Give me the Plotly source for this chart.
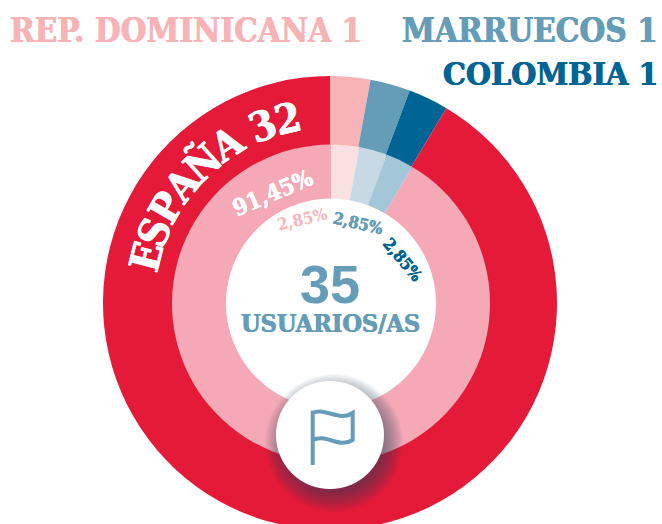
import math
import plotly.graph_objects as go

COUNTRIES = ["REP. DOMINICANA", "MARRUECOS", "COLOMBIA", "ESPAÑA"]
USERS = [1, 1, 1, 32]
PERCENTS = [2.85, 2.85, 2.85, 91.45]
OUTER_COLORS = ["#f7b3b6", "#659db9", "#006595", "#e51a38"]
INNER_COLORS = ["#fbe0e2", "#c6d9e5", "#a3c6d8", "#f5a9b6"]
TOTAL = 35
TOTAL_LABEL = "USUARIOS/AS"

W, H = 662, 540
CX, CY = 330, 303
R_OUT, R_MID, R_HOLE = 227, 159, 105
SERIF = "DejaVu Serif Condensed"
BLUE = "#659db9"


def px(x):
    return x / W


def py(y):
    return 1 - y / H


def dom(r, cx=CX, cy=CY):
    return dict(x=[px(cx - r), px(cx + r)], y=[py(cy + r), py(cy - r)])


def note(text, x, y, size, color, angle=0, anchor="center", family=SERIF, weight="bold", bold=0.4):
    shadow = f"{bold}px 0 0 {color}, -{bold}px 0 0 {color}" if bold else "none"
    return dict(text=text, x=px(x), y=py(y), xref="paper", yref="paper", showarrow=False,
                xanchor=anchor, yanchor="middle", textangle=angle,
                font=dict(family=family, size=size, color=color, weight=weight, shadow=shadow))


fig = go.Figure()
fig.add_trace(go.Pie(values=USERS, labels=COUNTRIES, sort=False, direction="clockwise", rotation=0,
                     hole=(R_MID - 3) / R_OUT, domain=dom(R_OUT), textinfo="none",
                     marker=dict(colors=OUTER_COLORS, line=dict(width=0)), showlegend=False))
fig.add_trace(go.Pie(values=PERCENTS, labels=COUNTRIES, sort=False, direction="clockwise", rotation=0,
                     hole=R_HOLE / R_MID, domain=dom(R_MID, CX + 1, CY + 0.5), textinfo="none",
                     marker=dict(colors=INNER_COLORS, line=dict(width=0)), showlegend=False))

notes = [
    note(f"{COUNTRIES[0]} {USERS[0]}", 8, 30, 33, OUTER_COLORS[0], anchor="left"),
    note(f"{COUNTRIES[1]} {USERS[1]}", 660, 30, 33, OUTER_COLORS[1], anchor="right"),
    note(f"{COUNTRIES[2]} {USERS[2]}", 660, 74, 32, OUTER_COLORS[2], anchor="right"),
    note(str(TOTAL), 330, 284, 54, BLUE, family="Liberation Sans", bold=0),
    note(TOTAL_LABEL, 330, 323, 25, BLUE),
]


def pct(v):
    return f"{v:.2f}".replace(".", ",") + "%"


notes += [
    note(pct(PERCENTS[3]), 272, 192, 23, "#ffffff", -23, bold=0.2),
    note(pct(PERCENTS[0]), 302, 219, 16.5, OUTER_COLORS[0], -13, bold=0),
    note(pct(PERCENTS[1]), 358, 223, 16.5, OUTER_COLORS[1], 13, bold=0.2),
    note(pct(PERCENTS[2]), 402, 260, 16.5, OUTER_COLORS[2], 50, bold=0.2),
]

# curved label of the big slice, one rotated glyph at a time
GLYPH_EM = {"E": .66, "S": .62, "P": .68, "A": .70, "Ñ": .79, " ": .3, "3": .63, "2": .63}
arc_text = f"{COUNTRIES[3]} {USERS[3]}"
arc_size, arc_r, arc_start = 41, 189, -80
pos = 0
for ch in arc_text:
    adv = GLYPH_EM[ch] * arc_size
    theta = arc_start + math.degrees((pos + adv / 2) / arc_r)
    pos += adv
    if ch != " ":
        t = math.radians(theta)
        notes.append(note(ch, CX + arc_r * math.sin(t), CY - arc_r * math.cos(t), arc_size, "#ffffff", theta, bold=0.5))

# medallion with soft shadow and flag icon
BX, BY, BR = 330, 435, 54


def circle(x, y, r, **kw):
    return dict(type="circle", xref="paper", yref="paper", x0=px(x - r), x1=px(x + r),
                y0=py(y + r), y1=py(y - r), layer="above", **kw)


shapes = []
for i in range(16):
    r = BR + 15 - i * 1.3
    shapes.append(circle(BX + 4, BY + 8, r, fillcolor="rgba(35,65,95,0.045)", line=dict(width=0)))
shapes.append(circle(BX, BY, BR, fillcolor="#ffffff", line=dict(width=0)))


def P(x, y):
    return f"{px(x):.5f},{py(y):.5f}"


flag = (f"M{P(312.7, 465)} L{P(312.7, 410.5)} "
        f"M{P(312.7, 413)} C{P(326, 407)} {P(339, 422)} {P(352.7, 413)} "
        f"L{P(352.7, 440)} C{P(339, 449)} {P(326, 433)} {P(312.7, 440)}")
shapes.append(dict(type="path", xref="paper", yref="paper", path=flag, layer="above",
                   line=dict(color=BLUE, width=4)))

fig.update_layout(width=W, height=H, margin=dict(l=0, r=0, t=0, b=0), autosize=False,
                  paper_bgcolor="#ffffff", plot_bgcolor="#ffffff", annotations=notes, shapes=shapes)
fig.write_html("out.html", config=dict(displayModeBar=False),
               post_script="document.body.style.margin='0';document.body.style.overflow='hidden';"
                           "document.documentElement.style.overflow='hidden';")
